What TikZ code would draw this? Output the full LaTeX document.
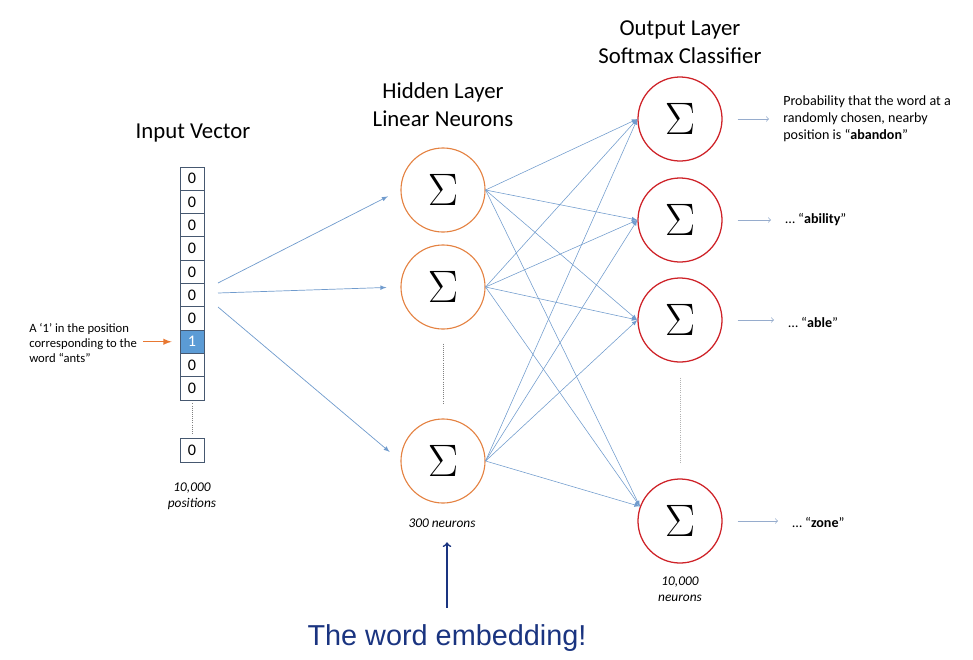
\RequirePackage{fix-cm}
\documentclass[tikz,border=0pt]{standalone}
\usepackage{fontspec}
\setmainfont{Carlito}
\newfontfamily\arialfont{Liberation Sans}
\usetikzlibrary{arrows,calc}
\definecolor{hidorange}{RGB}{228,130,66}
\definecolor{outred}{RGB}{206,34,40}
\definecolor{linkblue}{RGB}{112,155,205}
\definecolor{cellline}{RGB}{70,88,112}
\definecolor{onehot}{RGB}{91,155,213}
\definecolor{navy}{RGB}{26,52,128}
\definecolor{outgray}{RGB}{150,172,205}
\definecolor{antsorange}{RGB}{232,120,50}
\newcommand{\sumsign}{\scalebox{1.3}{$\Sigma$}}
\tikzset{
	cell/.style={draw=cellline, line width=0.6pt, minimum width=0.6cm, minimum height=0.5825cm,
			inner sep=0pt, font=\fontsize{11.5}{12}\selectfont},
	hidden/.style={circle, draw=hidorange, line width=0.8pt, minimum size=2.1cm, inner sep=0pt,
			font=\fontsize{24.88}{30}\selectfont},
	output/.style={circle, draw=outred, line width=0.9pt, minimum size=2.1cm, inner sep=0pt,
			font=\fontsize{24.88}{30}\selectfont},
	title/.style={align=center, font=\fontsize{16.2}{20}\selectfont},
	note/.style={align=center, font=\fontsize{9.5}{11.4}\selectfont\itshape},
	prob/.style={anchor=west, align=left, inner sep=0pt, font=\fontsize{10}{12}\selectfont},
	inlink/.style={draw=linkblue, line width=0.5pt, -latex, shorten >=0.35cm},
	link/.style={draw=linkblue, line width=0.4pt, -latex},
	outlink/.style={draw=outgray, line width=0.5pt, ->, shorten <=0.375cm, shorten >=0.35cm},
	gap/.style={draw=gray, densely dotted, line width=0.5pt}
}
\begin{document}
\begin{tikzpicture}[x=0.025cm, y=-0.025cm]
	\useasboundingbox (0,0) rectangle (973,659);
	% titles
	\node[title] (intitle) at (193,133) {Input Vector};
	\node[title] (hidtitle) at (443,105) {Hidden Layer\\Linear Neurons};
	\node[title] (outtitle) at (680,42) {Output Layer\\Softmax Classifier};

	% one-hot input vector
	\foreach \i in {1,...,7,9,10}
		\node[cell] (c\i) at (192,{167+23.3*(\i-0.5)}) {0};
	\node[cell, fill=onehot, text=white] (c8) at (192,{167+23.3*7.5}) {1};
	\node[cell] (c11) at (192,450.5) {0};
	\draw[gap] (c10.south) ++(0,3) -- ($(c11.north)+(0,-4)$);
	\node[note] (inlabel) at (192,496) {10,000\\positions};
	\node[align=left, anchor=west, inner sep=0pt, font=\fontsize{9}{10.7}\selectfont] (ants) at (29,343)
		{A `1' in the position\\corresponding to the\\word ``ants''};
	\draw[antsorange, line width=1pt, -latex, shorten <=0.15cm, shorten >=0.2cm]
		(c8.west -| ants.east) -- (c8.west);

	% hidden layer
	\node[hidden] (h1) at (443,190) {\sumsign};
	\node[hidden] (h2) at (443,287) {\sumsign};
	\node[hidden] (h3) at (443,461) {\sumsign};
	\draw[gap, shorten <=0.35cm, shorten >=0.35cm] (h2.south) -- (h3.north);
	\node[note] (hidlabel) at (442,523) {300 neurons};

	% output layer
	\node[output] (o1) at (680,119) {\sumsign};
	\node[output] (o2) at (680,220) {\sumsign};
	\node[output] (o3) at (680,320) {\sumsign};
	\node[output] (o4) at (680,521) {\sumsign};
	\draw[gap, gray!60, shorten <=0.375cm, shorten >=0.4cm] (o3.south) -- (o4.north);
	\node[note] (outlabel) at (680,589) {10,000\\neurons};

	% input -> hidden
	\coordinate (s1) at (218,283);
	\coordinate (s2) at (218,293);
	\coordinate (s3) at (218,307);
	\foreach \k in {1,2,3}
		\draw[inlink] (s\k) -- (h\k.west);

	% hidden -> output
	\foreach \h in {1,2,3}
		\foreach \o/\a in {1/180,2/180,3/180,4/160}
			\draw[link] (h\h.east) -- (o\o.\a);

	% softmax outputs
	\node[prob] (t1) at (783,119) {Probability that the word at a\\randomly chosen, nearby\\position is ``\textbf{abandon}''};
	\node[prob] (t2) at (785,220) {\dots{} ``\textbf{ability}''};
	\node[prob] (t3) at (788,322) {\dots{} ``\textbf{able}''};
	\node[prob] (t4) at (792,522) {\dots{} ``\textbf{zone}''};
	\foreach \k in {1,...,4}
		\draw[outlink] (o\k) -- (o\k -| t\k.west);

	% the embedding
	\node[text=navy, font=\arialfont\fontsize{20.5}{24}\selectfont] (emb) at (447,638) {The word embedding!};
	\draw[navy, line width=1.2pt, ->, shorten <=0.3cm, shorten >=0.25cm]
		(emb.north) -- (emb.north |- hidlabel.south);
\end{tikzpicture}
\end{document}
